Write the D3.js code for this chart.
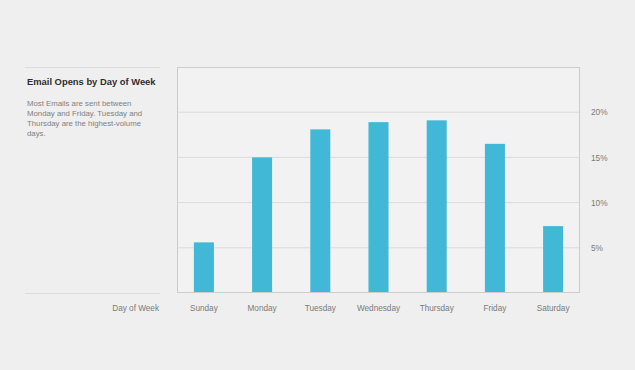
<!DOCTYPE html>
<html>
<head>
<meta charset="utf-8">
<script src="https://cdn.jsdelivr.net/npm/d3@7"></script>
<style>
  body { margin: 0; background: #efefef; }
  text { font-family: "Liberation Sans", Arial, sans-serif; }
</style>
</head>
<body>
<div id="chart-area"></div>
<script>
const days = ['Sunday', 'Monday', 'Tuesday', 'Wednesday', 'Thursday', 'Friday', 'Saturday'];
const opens = [5.6, 15.0, 18.1, 18.9, 19.1, 16.5, 7.4];
const yTicks = [5, 10, 15, 20];
const descLines = ['Most Emails are sent between', 'Monday and Friday. Tuesday and', 'Thursday are the highest-volume', 'days.'];

const width = 635;
const height = 370;
const plotLeft = 177, plotRight = 580, plotTop = 67, plotBottom = 293;

let svg = d3.select('#chart-area').append('svg').attr('width', width).attr('height', height);

svg.append('rect').attr('width', width).attr('height', height).attr('fill', '#efefef');

let x = d3.scaleBand()
    .domain(days)
    .range([plotLeft, plotRight])
    .paddingInner(0.656)
    .paddingOuter(0.29);

let y = d3.scaleLinear()
    .domain([0, 25])
    .range([plotBottom, plotTop]);

// plot box
svg.append('rect')
    .attr('x', plotLeft).attr('y', plotTop)
    .attr('width', plotRight - plotLeft).attr('height', plotBottom - plotTop)
    .attr('fill', '#f2f2f2');

// gridlines
svg.selectAll('.grid').data(yTicks).enter().append('line')
    .attr('class', 'grid')
    .attr('x1', plotLeft).attr('x2', plotRight)
    .attr('y1', (d) => { return y(d); })
    .attr('y2', (d) => { return y(d); })
    .attr('stroke', '#dadada').attr('stroke-width', 1);

// bars
svg.selectAll('.bar').data(opens).enter().append('rect')
    .attr('class', 'bar')
    .attr('x', (d, i) => { return x(days[i]); })
    .attr('y', (d) => { return y(d); })
    .attr('width', x.bandwidth())
    .attr('height', (d) => { return plotBottom - y(d); })
    .attr('fill', '#41b8d5');

// box border
svg.append('rect')
    .attr('x', plotLeft + 0.5).attr('y', plotTop + 0.5)
    .attr('width', plotRight - plotLeft - 1).attr('height', plotBottom - plotTop - 1)
    .attr('fill', 'none')
    .attr('stroke', '#cccccc').attr('stroke-width', 1);

// y axis labels
let yAxis = d3.axisRight(y)
    .tickValues(yTicks)
    .tickSize(0)
    .tickPadding(11)
    .tickFormat((d) => { return d + '%'; });

let yg = svg.append('g').attr('transform', 'translate(' + plotRight + ',0)').call(yAxis);
yg.select('.domain').remove();
yg.selectAll('text').attr('fill', '#7a7a7a').style('font-size', '8.3px');

// x axis labels
let xAxis = d3.axisBottom(x).tickSize(0).tickPadding(12);
let xg = svg.append('g').attr('transform', 'translate(0,' + plotBottom + ')').call(xAxis);
xg.select('.domain').remove();
xg.selectAll('text').attr('fill', '#7a7a7a').style('font-size', '8.2px');

// left panel
svg.append('line').attr('x1', 25).attr('x2', 160).attr('y1', 67.5).attr('y2', 67.5)
    .attr('stroke', '#dcdcdc');
svg.append('line').attr('x1', 25).attr('x2', 160).attr('y1', 293.5).attr('y2', 293.5)
    .attr('stroke', '#dcdcdc');

svg.append('text')
    .attr('x', 27).attr('y', 85)
    .attr('fill', '#2e2e2e')
    .style('font-size', '9.4px').style('font-weight', 'bold')
    .text('Email Opens by Day of Week');

svg.selectAll('.desc').data(descLines).enter().append('text')
    .attr('class', 'desc')
    .attr('x', 27)
    .attr('y', (d, i) => { return 105.5 + i * 10.2; })
    .attr('fill', '#808080')
    .style('font-size', '7.8px')
    .text((d) => { return d; });

svg.append('text')
    .attr('x', 159).attr('y', 311)
    .attr('text-anchor', 'end')
    .attr('fill', '#7a7a7a')
    .style('font-size', '8.2px')
    .text('Day of Week');
</script>
</body>
</html>
